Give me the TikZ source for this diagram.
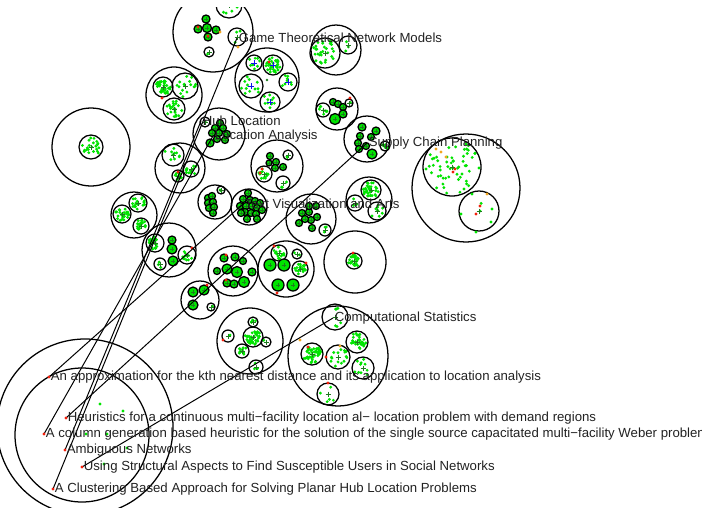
\documentclass[tikz,border=0pt]{standalone}
\usepackage{fontspec}
\setmainfont{Liberation Sans}
\usetikzlibrary{calc}
\definecolor{leaf}{HTML}{00E400}
\definecolor{hot}{HTML}{F2200C}
\definecolor{warm}{HTML}{F2A51E}
\definecolor{crossc}{HTML}{1E7A1E}
\definecolor{cool}{HTML}{1010EE}
\definecolor{ink}{HTML}{222222}
\tikzset{
  ring/.style={draw=black, line width=0.95pt},
  cell/.style={draw=black, fill=leaf, line width=0.95pt},
  gdot/.style={fill=leaf},
  rdot/.style={fill=hot},
  odot/.style={fill=warm},
  crs/.style={draw=crossc, line width=0.55pt},
  bcrs/.style={draw=cool, line width=0.6pt},
  link/.style={draw=black, line width=0.75pt},
  lab/.style={text=ink, font=\fontsize{9.9}{11}\selectfont, anchor=west, inner sep=1.2pt}
}
% scatter of green points inside a circle
\newcommand{\spray}[4]{%
  \foreach \k in {1,...,#4}{%
    \pgfmathsetmacro{\sa}{360*rnd}%
    \pgfmathsetmacro{\sr}{max(#3-2,1)*sqrt(rnd)}%
    \fill[gdot] ($(#1,#2)+(\sa:\sr)$) circle (1.6);
  }%
}

\begin{document}
\begin{tikzpicture}[x=0.75pt, y=-0.75pt]
  \useasboundingbox (0,0) rectangle (702,507);
  \pgfmathsetseed{11}

  \begin{scope}
  \clip (0,7) rectangle (702,507);

  % topic circles
  \foreach \x/\y/\rad in {213/32/40, 174/95/28, 267/80/32, 336/50/25, 91/147/39,
      219/134/26, 277/166/26, 337/109/21, 367/139/23, 466/188/54, 369/200/23,
      355/262/31, 180/168/25, 134/215/23, 215/202/17, 249/207/18, 311/219/25,
      169/250/27, 200/300/19, 233/271/25, 286/269/28, 250/341/33, 338/356/50,
      85/427/88, 82/435/67}
    \draw[ring] (\x,\y) circle (\rad);

  % sub-topic circles with their papers
  \foreach \x/\y/\rad/\m in {229/5/13/6, 209/52/5/1, 237/37/9/3,
      163/87/10/40, 185/86/13/16, 174/109/11/22,
      325/53/15/30, 348/45/9/3, 91/147/12/22, 205/122/5/1,
      288/155/5/2, 264/174/8/16, 283/183/7/3, 323/110/7/8, 349/103/4/1,
      385/146/5/6, 452/167/29/55, 479/211/20/2,
      371/190/10/35, 355/203/8/3, 377/211/9/8, 354/261/8/30,
      173/155/11/10, 178/176/6/10, 191/169/8/16,
      138/203/9/20, 122/214/9/26, 141/226/8/20, 221/190/4/2, 325/230/6/3,
      155/243/9/20, 160/264/6/3, 187/255/9/12, 211/307/4/1,
      279/253/8/16, 297/254/5/2, 300/269/8/20,
      253/322/5/5, 228/336/6/1, 253/337/10/35, 266/342/5/1, 242/351/7/12, 256/367/7/3,
      335/317/13/6, 312/354/11/45, 338/357/12/15, 357/342/11/30, 363/368/11/10, 328/394/11/5}
  {
    \spray{\x}{\y}{\rad}{\m}
    \draw[ring] (\x,\y) circle (\rad);
    \draw[crs] (\x-2.5,\y) -- (\x+2.5,\y) (\x,\y-2.5) -- (\x,\y+2.5);
  }

  % blue marked group
  \foreach \x/\y/\rad/\m in {254/63/8/8, 273/65/10/35, 251/86/12/12, 288/82/9/8, 270/102/10/10}
  {
    \spray{\x}{\y}{\rad}{\m}
    \draw[ring] (\x,\y) circle (\rad);
    \draw[bcrs] (\x-3,\y) -- (\x+3,\y) (\x,\y-3) -- (\x,\y+3);
  }
  \fill[crossc] (267,80) circle (1.4);

  % small filled circles
  \foreach \x/\y/\rad in {206/19/4, 207/28/4.5, 198/29/4, 216/30/4, 208/37/4,
      220/123/3.5, 215/128/3.5, 223/128/3.5, 212/133/3.5, 219/133/3.5, 227/134/3.5,
      217/139/3.5, 225/140/3.5, 210/143/4,
      270/156/3.5, 276/162/3.5, 283/167/3.5, 275/168/3.5, 269/163/3,
      333/102/3.5, 338/104/3.5, 343/107/3.5, 343/114/4, 335/119/5.5,
      362/127/4, 360/136/3.5, 358/143/3.5, 359/149/3.5, 366/146/3.5, 371/137/3.5,
      376/131/4, 372/154/5,
      208/198/3.5, 212/196/3.5, 208/203/3.5, 213/202/3.5, 209/208/3.5, 214/207/3.5, 213/213/3.5,
      248/193/3.5, 243/199/3.5, 250/200/3.5, 255/201/3.5, 260/203/3.5, 240/206/3.5,
      246/206/3.5, 252/206/3.5, 257/208/3.5, 245/212/3.5, 251/213/3.5, 256/214/3.5,
      262/210/3.5, 241/213/3.5, 247/219/3.5, 257/219/3.5,
      302/213/3.5, 309/212/3.5, 309/206/3.5, 317/217/3.5, 311/220/3.5, 299/223/3.5,
      312/228/3.5, 305/219/3.5, 316/206/3.5,
      172/249/5, 173/261/5, 172/240/4,
      193/292/5, 204/290/5, 193/305/5,
      224/258/4, 235/257/4, 243/261/3.5, 217/271/3.5, 227/269/5, 237/272/5.5,
      252/272/4, 227/283/4, 234/284/4, 244/282/5.5,
      270/265/6, 284/265/6, 278/285/6, 293/285/6}
  {
    \draw[cell] (\x,\y) circle (\rad);
    \draw[crs] (\x-2,\y) -- (\x+2,\y) (\x,\y-2) -- (\x,\y+2);
  }

  % loose papers
  \foreach \x/\y in {426/169, 472/194, 464/189, 461/214, 476/232, 492/209, 491/222,
      100/404, 123/411, 86/434, 107/434, 127/448, 104/464}
    \fill[gdot] (\x,\y) circle (1.6);
  \foreach \x/\y in {162/98, 269/62, 198/27, 208/36, 262/169, 260/173, 455/169, 453/172,
      480/206, 476/214, 226/255, 226/280, 274/246, 277/293, 306/263, 192/248, 207/285,
      308/347, 326/357, 223/340, 353/253, 328/383, 178/172, 350/98}
    \fill[rdot] (\x,\y) circle (1.6);
  \foreach \x/\y in {220/32, 238/47, 436/149, 441/152, 446/157, 487/194, 340/346, 300/340}
    \fill[odot] (\x,\y) circle (1.6);
  \end{scope}

  % label points
  \coordinate (pGame) at (237,38);
  \coordinate (pHub)  at (201,121);
  \coordinate (pLoc)  at (213,136);
  \coordinate (pSup)  at (367,143);
  \coordinate (pVis)  at (243,204);
  \coordinate (pComp) at (333,318);
  \coordinate (pApprox) at (49,377);
  \coordinate (pHeur)   at (66,418);
  \coordinate (pCol)    at (44,434);
  \coordinate (pAmb)    at (65,450);
  \coordinate (pUse)    at (82,467);
  \coordinate (pClus)   at (53,489);

  \draw[link] (pApprox) -- (pVis);
  \draw[link] (pHeur) -- (pSup);
  \draw[link] (pCol) -- (pLoc);
  \draw[link] (pAmb) -- (pHub);
  \draw[link] (pUse) -- (pComp);
  \draw[link] (pClus) -- (pGame);

  \foreach \p in {pApprox, pHeur, pCol, pAmb, pUse, pClus}
    \fill[rdot] (\p) circle (1.6);

  \begin{scope}
  \clip (0,0) rectangle (702,507);
  \node[lab] (game) at (pGame) {Game Theoretical Network Models};
  \node[lab] (hub)  at (pHub)  {Hub Location};
  \node[lab] (loc)  at (pLoc)  {Location Analysis};
  \node[lab] (sup)  at (pSup)  {Supply Chain Planning};
  \node[lab] (vis)  at (pVis)  {Text Visualization and Arts};
  \node[lab] (comp) at (pComp) {Computational Statistics};
  \node[lab] (approx) at (pApprox) {An approximation for the kth nearest distance and its application to location analysis};
  \node[lab] (heur) at (pHeur) {Heuristics for a continuous multi−facility location al− location problem with demand regions};
  \node[lab] (col)  at (pCol)  {A column generation based heuristic for the solution of the single source capacitated multi−facility Weber problem};
  \node[lab] (amb)  at (pAmb)  {Ambiguous Networks};
  \node[lab] (use)  at (pUse)  {Using Structural Aspects to Find Susceptible Users in Social Networks};
  \node[lab] (clus) at (pClus) {A Clustering Based Approach for Solving Planar Hub Location Problems};
  \end{scope}
\end{tikzpicture}
\end{document}
